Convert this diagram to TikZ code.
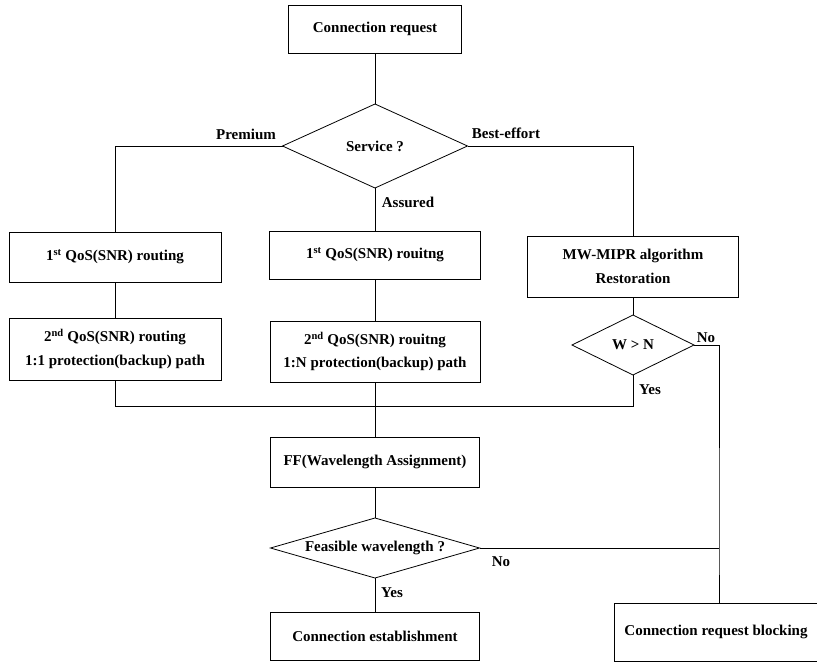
\documentclass[tikz,border=0pt]{standalone}
\usepackage{fontspec}
\setmainfont{Liberation Serif}
\usetikzlibrary{shapes.geometric}
\begin{document}
\begin{tikzpicture}[x=1pt,y=-1pt,
  every node/.style={font=\fontsize{15}{23.5}\selectfont\bfseries},
  ln/.style={draw=black,line width=0.8pt},
  boxnode/.style={draw=black,line width=0.8pt,rectangle,inner sep=0pt,outer sep=0pt,align=center},
  dianode/.style={draw=black,line width=0.8pt,diamond,inner sep=0pt,outer sep=0pt,align=center},
  lbl/.style={inner sep=0pt,anchor=base}]
\useasboundingbox (0,0) rectangle (817,662);
\fill[white] (0,0) rectangle (817,662);

% boxes
\node[boxnode,minimum width=173pt,minimum height=48pt] (req) at (375,29) {Connection request};
\node[dianode,aspect=2.2,minimum width=185pt,minimum height=84pt] (svc) at (375,146) {Service ?};
\node[boxnode,minimum width=212pt,minimum height=50pt] (b1) at (115,257) {1\textsuperscript{st} QoS(SNR) routing};
\node[boxnode,minimum width=211pt,minimum height=48pt] (b2) at (375,255) {1\textsuperscript{st} QoS(SNR) rouitng};
\node[boxnode,minimum width=211pt,minimum height=61pt] (b3) at (633,266.5) {MW-MIPR algorithm\\Restoration};
\node[boxnode,minimum width=212pt,minimum height=62pt] (b4) at (115,349) {2\textsuperscript{nd} QoS(SNR) routing\\1:1 protection(backup) path};
\node[boxnode,minimum width=210pt,minimum height=61pt] (b5) at (375,351.5) {2\textsuperscript{nd} QoS(SNR) rouitng\\1:N protection(backup) path};
\node[dianode,aspect=2.03,minimum width=122pt,minimum height=60pt] (wn) at (633,345) {W \textgreater{} N};
\node[boxnode,minimum width=209pt,minimum height=50pt] (ff) at (375,462) {FF(Wavelength Assignment)};
\node[dianode,aspect=3.48,minimum width=209pt,minimum height=60pt] (fw) at (375,548) {Feasible wavelength ?};
\node[boxnode,minimum width=209pt,minimum height=48pt] (est) at (375,636) {Connection establishment};
\node[boxnode,minimum width=204pt,minimum height=58pt] (blk) at (716,632) {Connection request blocking};

% coordinates
\coordinate (mL) at (115,406);
\coordinate (mR) at (633,406);
\coordinate (j) at (719,548);
\coordinate (jt) at (719,345);

% connectors
\draw[ln] (req) -- (svc);
\draw[ln] (svc.west) -| (b1.north);
\draw[ln] (svc.east) -| (b3.north);
\draw[ln] (svc.south) -- (b2.north);
\draw[ln] (b1) -- (b4);
\draw[ln] (b2) -- (b5);
\draw[ln] (b3) -- (wn);
\draw[ln] (b4.south) -- (mL) -- (mR) -- (wn.south);
\draw[ln] (b5) -- (ff);
\draw[ln] (ff) -- (fw);
\draw[ln] (fw) -- (est);
\draw[ln] (wn.east) -- (jt) -- (j) -- (j |- blk.north);
\draw[ln] (fw.east) -- (j);

% labels
\node[lbl] (lpre) at (246,139) {Premium};
\node[lbl] (lbe) at (506,138) {Best-effort};
\node[lbl] (lass) at (408,207) {Assured};
\node[lbl] (lno1) at (706,342) {No};
\node[lbl] (lyes1) at (650,394) {Yes};
\node[lbl] (lno2) at (501,566) {No};
\node[lbl] (lyes2) at (392,597) {Yes};
\end{tikzpicture}
\end{document}
